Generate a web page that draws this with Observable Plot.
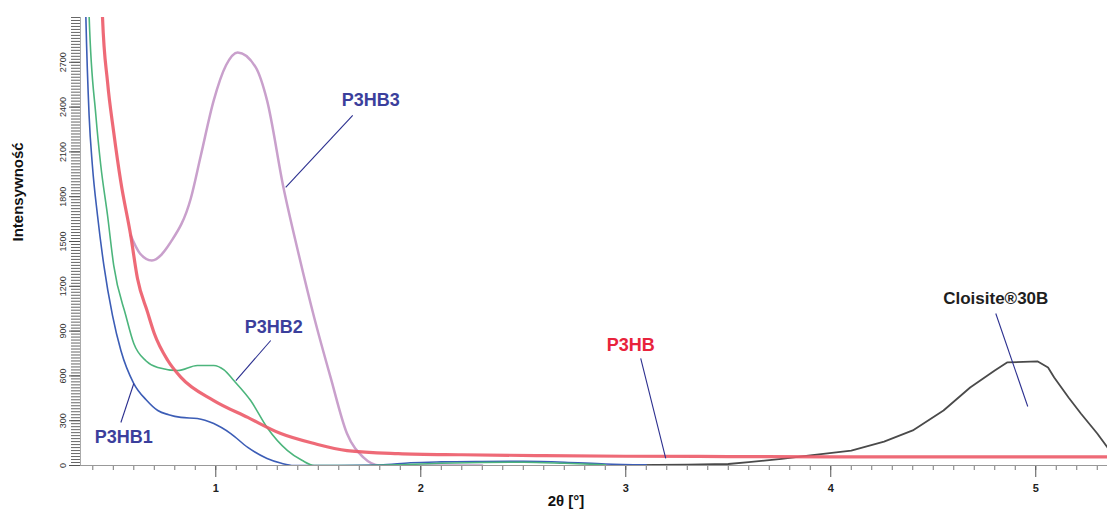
<!DOCTYPE html>
<html><head><meta charset="utf-8">
<script src="https://cdn.jsdelivr.net/npm/d3@7"></script>
<script src="https://cdn.jsdelivr.net/npm/@observablehq/plot@0.6"></script>
<style>
body{margin:0;background:#fff;}
</style></head><body><div id="chart"></div>
<script>
// P3HB1 (blue)
const p3hb1X = [0.36,0.366,0.382,0.398,0.423,0.454,0.496,0.537,0.60,0.66,0.717,0.77,0.83,0.91,0.99,1.073,1.156,1.25,1.32,1.38,1.6,1.8,1.95,2.1,2.3,2.5,2.7,2.9,3.1];
const p3hb1Y = [3400,3014,2344,2009,1674,1340,1005,770,549,440,368,340,322,315,281,214,121,47,15,0,0,3,18,24,27,28,22,10,4];
// P3HB2 (green)
const p3hb2X = [0.375,0.382,0.415,0.439,0.472,0.502,0.561,0.60,0.66,0.717,0.815,0.91,0.99,1.04,1.088,1.17,1.25,1.35,1.42,1.48,1.7,1.9,2.1,2.3,2.5,2.7,2.9];
const p3hb2Y = [3400,3014,2344,2009,1674,1340,1005,817,700,656,636,670,670,640,569,435,255,100,35,0,0,5,15,20,22,15,5];
// P3HB (red)
const p3hbX = [0.44,0.447,0.472,0.502,0.537,0.585,0.618,0.667,0.70,0.766,0.83,0.99,1.156,1.317,1.48,1.64,1.89,2.2,2.6,3.0,3.5,4.0,4.5,5.0,5.35];
const p3hbY = [3300,3014,2567,2232,1897,1540,1252,1027,884,703,590,435,322,214,147,100,80,72,66,62,60,58,58,58,58];
// P3HB3 (purple)
const p3hb3X = [0.585,0.63,0.688,0.78,0.878,0.927,0.99,1.05,1.107,1.195,1.25,1.33,1.40,1.48,1.56,1.64,1.72,1.80,2.0,2.3];
const p3hb3Y = [1540,1420,1373,1496,1788,2076,2445,2680,2766,2666,2445,1862,1440,991,590,214,54,0,0,0];
// Cloisite 30B (black)
const cloisiteX = [3.0,3.3,3.5,3.6,3.76,3.9,4.10,4.26,4.40,4.55,4.68,4.80,4.86,5.01,5.06,5.09,5.16,5.22,5.30,5.35];
const cloisiteY = [3,5,10,22,45,68,100,160,235,368,522,636,690,697,656,589,455,348,214,120];

// tick labels
const xTicks = [1,2,3,4,5];
const yTicks = [0,300,600,900,1200,1500,1800,2100,2400,2700];
const xDomain = [0.34,5.35];
const yDomain = [0,3000];

// annotations
const labelNames = ["P3HB3","P3HB2","P3HB1","P3HB","Cloisite®30B"];
const labelColors = ["#3b3f9c","#3b3f9c","#3b3f9c","#e8233c","#1e1e1e"];
const labelSizes = [18,18,18,18,17];
const labelX = [1.756,1.283,0.551,3.024,4.805];
const labelY = [2445,924,188,804,1119];
const leaderX1 = [1.668,1.268,0.537,3.073,4.805];
const leaderY1 = [2344,837,288,717,1018];
const leaderX2 = [1.341,1.098,0.60,3.195,4.961];
const leaderY2 = [1862,569,549,47,395];

const mk = (xs, ys) => xs.map((x,i)=>({x, y: ys[i]}));
const labels = labelNames.map((t,i)=>({t, c: labelColors[i], s: labelSizes[i], x: labelX[i], y: labelY[i], x1: leaderX1[i], y1: leaderY1[i], x2: leaderX2[i], y2: leaderY2[i]}));

const chart = Plot.plot({
  width: 1107, height: 516,
  marginLeft: 80, marginRight: 0, marginTop: 17, marginBottom: 51,
  style: {fontFamily: "'Liberation Sans', Arial, sans-serif", background: "#fff"},
  x: {domain: xDomain},
  y: {domain: yDomain},
  marks: [
    Plot.axisY(d3.range(0, 3001, 20), {tickSize: 9, tickFormat: () => "", label: null, stroke: "#666", strokeWidth: 1}),
    Plot.axisY(yTicks, {tickSize: 11, tickRotate: -90, fontSize: 9, tickFormat: "d", label: null, stroke: "#555", fill: "#333", tickPadding: 4}),
    Plot.axisX(d3.range(0.4, 5.351, 0.1), {tickSize: 5, tickFormat: () => "", label: null, stroke: "#777"}),
    Plot.axisX(xTicks, {tickSize: 12, fontSize: 11, fontWeight: "bold", tickFormat: "d", label: null, stroke: "#555", fill: "#222", tickPadding: 7}),
    Plot.ruleY([yDomain[0]], {stroke: "#999"}),
    Plot.ruleX([xDomain[0]], {stroke: "#aaa"}),
    Plot.line(mk(p3hb3X, p3hb3Y), {x: "x", y: "y", stroke: "#c9a0cc", strokeWidth: 2.5, curve: "monotone-x", clip: true}),
    Plot.line(mk(cloisiteX, cloisiteY), {x: "x", y: "y", stroke: "#4a4a4a", strokeWidth: 1.8, clip: true}),
    Plot.line(mk(p3hb1X, p3hb1Y), {x: "x", y: "y", stroke: "#3c5db6", strokeWidth: 1.6, curve: "monotone-x", clip: true}),
    Plot.line(mk(p3hb2X, p3hb2Y), {x: "x", y: "y", stroke: "#4cb57c", strokeWidth: 1.6, curve: "monotone-x", clip: true}),
    Plot.line(mk(p3hbX, p3hbY), {x: "x", y: "y", stroke: "#ec5a68", strokeWidth: 3.2, strokeOpacity: 0.9, curve: "monotone-x", clip: true}),
    Plot.link(labels, {x1: "x1", y1: "y1", x2: "x2", y2: "y2", stroke: "#2b2f8f", strokeWidth: 1.1}),
    Plot.text(labels, {x: "x", y: "y", text: "t", fill: "c", fontSize: (d) => d.s, fontWeight: "bold"}),
    Plot.text(["Intensywność"], {frameAnchor: "left", dx: -62, rotate: -90, fontSize: 15, fontWeight: "bold", fill: "#111"}),
    Plot.text(["2θ [°]"], {frameAnchor: "bottom", dx: -28, dy: 40, fontSize: 15, fontWeight: "bold", fill: "#111"})
  ]
});
document.getElementById("chart").append(chart);
</script>
</body></html>
